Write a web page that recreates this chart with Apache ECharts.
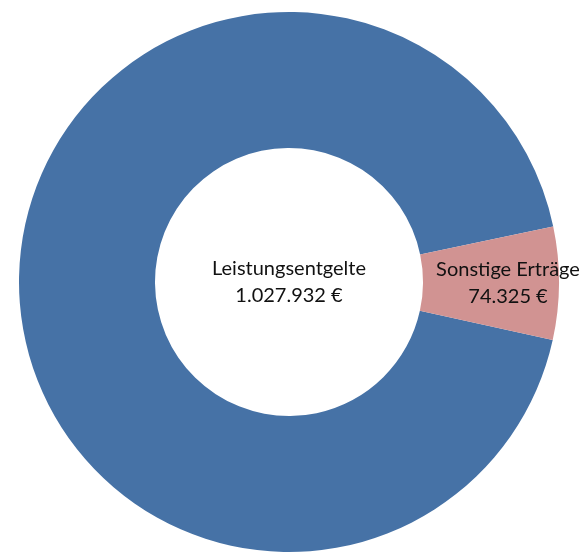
<!DOCTYPE html>
<html>
<head>
<meta charset="utf-8">
<script src="https://cdn.jsdelivr.net/npm/echarts@6/dist/echarts.min.js"></script>
<style>
  html, body { margin: 0; padding: 0; background: #fff; }
  #chart { width: 581px; height: 556px; }
</style>
</head>
<body>
<div id="chart"></div>
<script>
// data
const names = ['Leistungsentgelte', 'Sonstige Erträge']
const values = [1027932, 74325]
const colors = ['#4672A6', '#D19392']

const fmt = (v) => v.toLocaleString('de-DE') + ' €'

const chart = echarts.init(document.getElementById('chart'))

const labelFont = {
  fontFamily: 'Lato, "Open Sans", sans-serif',
  fontSize: 20,
  lineHeight: 27,
  color: '#111'
}

chart.setOption({
  animation: false,
  series: [
    {
      type: 'pie',
      center: [289, 282],
      radius: [134, 270],
      startAngle: -12.4,
      clockwise: true,
      avoidLabelOverlap: false,
      labelLine: { show: false },
      data: names.map((n, i) => ({
        name: n,
        value: values[i],
        itemStyle: { color: colors[i] },
        label: i === 0
          ? { show: true, position: 'center', ...labelFont }
          : { show: true, position: 'inside', offset: [14, 0], ...labelFont }
      })),
      label: {
        formatter: (p) => p.name + '\n' + fmt(p.value)
      },
      emphasis: { disabled: true }
    }
  ]
})
</script>
</body>
</html>
